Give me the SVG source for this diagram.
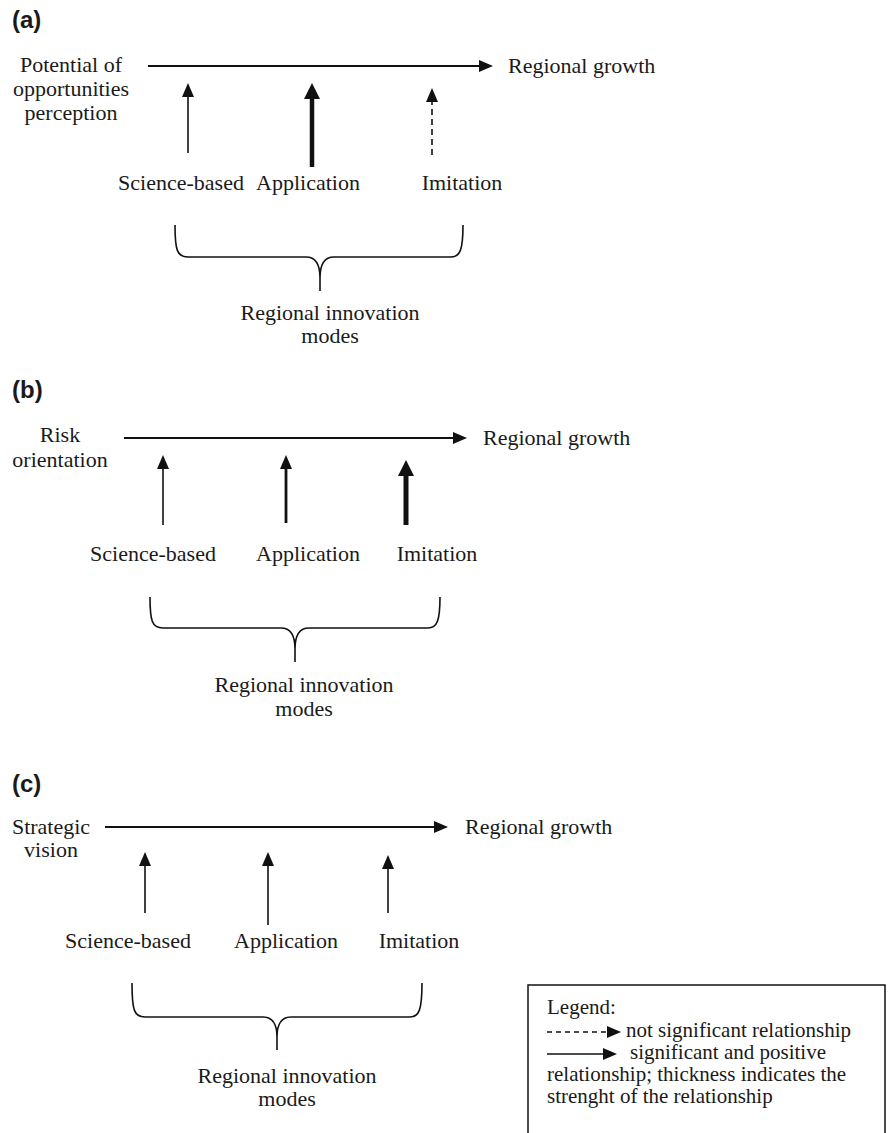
<svg xmlns="http://www.w3.org/2000/svg" width="890" height="1133" viewBox="0 0 890 1133">
<style>
.t{font-family:"Liberation Serif","Times New Roman",serif;font-size:22px;fill:#1a1a1a}
.lg{font-family:"Liberation Serif","Times New Roman",serif;font-size:21px;fill:#1a1a1a}
.m{text-anchor:middle}
.h{font-family:"Liberation Sans",Arial,sans-serif;font-size:24px;font-weight:bold;fill:#1a1a1a}
.ln{stroke:#111;fill:none}
.br{stroke:#111;stroke-width:1.6;fill:none}
</style>
<defs>
<marker id="ah" viewBox="0 0 14 12" refX="4" refY="6" markerWidth="14" markerHeight="12" markerUnits="userSpaceOnUse" orient="auto"><path d="M0,0 L14,6 L0,12 z" fill="#111"/></marker>
<marker id="ahL" viewBox="0 0 16 16" refX="6" refY="8" markerWidth="16" markerHeight="16" markerUnits="userSpaceOnUse" orient="auto"><path d="M0,0 L16,8 L0,16 z" fill="#111"/></marker>
</defs>
<rect width="890" height="1133" fill="#fff"/>

<g id="panel-a">
<text class="h" x="12" y="28">(a)</text>
<g id="a-source"><text class="t m" x="71" y="72">Potential of</text><text class="t m" x="71" y="96">opportunities</text><text class="t m" x="71" y="120">perception</text></g>
<g id="a-growth"><text class="t" x="508" y="73">Regional growth</text></g>
<g id="a-sci"><text class="t m" x="181" y="190">Science-based</text></g>
<g id="a-app"><text class="t m" x="308" y="190">Application</text></g>
<g id="a-imi"><text class="t m" x="462" y="190">Imitation</text></g>
<g id="a-modes"><path class="br" d="M175,225 C175,250 177,257 188,257 L306,257 C316,257 320,264 320,278 L320,291 M320,278 C320,264 324,257 334,257 L451,257 C460,257 463,250 463,225"/><text class="t m" x="330" y="320">Regional innovation</text><text class="t m" x="330" y="343">modes</text></g>
</g>

<g id="panel-b">
<text class="h" x="12" y="398">(b)</text>
<g id="b-source"><text class="t m" x="60" y="442">Risk</text><text class="t m" x="60" y="467">orientation</text></g>
<g id="b-growth"><text class="t" x="483" y="445">Regional growth</text></g>
<g id="b-sci"><text class="t m" x="153" y="561">Science-based</text></g>
<g id="b-app"><text class="t m" x="308" y="561">Application</text></g>
<g id="b-imi"><text class="t m" x="437" y="561">Imitation</text></g>
<g id="b-modes"><path class="br" d="M150,597 C150,621 152,628 163,628 L281,628 C291,628 295,635 295,649 L295,662 M295,649 C295,635 299,628 309,628 L428,628 C437,628 440,621 440,597"/><text class="t m" x="304" y="692">Regional innovation</text><text class="t m" x="304" y="716">modes</text></g>
</g>

<g id="panel-c">
<text class="h" x="12" y="792">(c)</text>
<g id="c-source"><text class="t m" x="51" y="834">Strategic</text><text class="t m" x="51" y="857">vision</text></g>
<g id="c-growth"><text class="t" x="465" y="834">Regional growth</text></g>
<g id="c-sci"><text class="t m" x="128" y="948">Science-based</text></g>
<g id="c-app"><text class="t m" x="286" y="948">Application</text></g>
<g id="c-imi"><text class="t m" x="419" y="948">Imitation</text></g>
<g id="c-modes"><path class="br" d="M132,983 C132,1010 134,1017 145,1017 L263,1017 C273,1017 277,1024 277,1037 L277,1050 M277,1037 C277,1024 281,1017 291,1017 L410,1017 C419,1017 422,1010 422,983"/><text class="t m" x="287" y="1083">Regional innovation</text><text class="t m" x="287" y="1106">modes</text></g>
</g>

<g id="connectors">
<line class="ln" stroke-width="1.8" x1="148" y1="66" x2="483" y2="66" marker-end="url(#ah)"/>
<line class="ln" stroke-width="1.6" x1="188" y1="153" x2="188" y2="93" marker-end="url(#ah)"/>
<line class="ln" stroke-width="4.5" x1="312" y1="167" x2="312" y2="93" marker-end="url(#ahL)"/>
<line class="ln" stroke-width="1.6" stroke-dasharray="6,4" x1="432" y1="155" x2="432" y2="98" marker-end="url(#ah)"/>

<line class="ln" stroke-width="1.8" x1="124" y1="438" x2="457" y2="438" marker-end="url(#ah)"/>
<line class="ln" stroke-width="1.6" x1="163" y1="525" x2="163" y2="465" marker-end="url(#ah)"/>
<line class="ln" stroke-width="2.8" x1="286" y1="523" x2="286" y2="465" marker-end="url(#ah)"/>
<line class="ln" stroke-width="5" x1="406" y1="525" x2="406" y2="470" marker-end="url(#ahL)"/>

<line class="ln" stroke-width="1.8" x1="105" y1="827" x2="438" y2="827" marker-end="url(#ah)"/>
<line class="ln" stroke-width="1.6" x1="145" y1="913" x2="145" y2="862" marker-end="url(#ah)"/>
<line class="ln" stroke-width="1.6" x1="268" y1="925" x2="268" y2="862" marker-end="url(#ah)"/>
<line class="ln" stroke-width="1.6" x1="388" y1="913" x2="388" y2="865" marker-end="url(#ah)"/>
</g>

<g id="legend">
<rect x="528" y="985" width="357" height="160" fill="none" stroke="#111" stroke-width="1.5"/>
<text class="lg" x="547" y="1014">Legend:</text>
<line class="ln" stroke-width="1.5" stroke-dasharray="5,4" x1="547" y1="1032" x2="611" y2="1032" marker-end="url(#ah)"/>
<text class="lg" x="626" y="1037">not significant relationship</text>
<line class="ln" stroke-width="1.5" x1="547" y1="1054" x2="607" y2="1054" marker-end="url(#ah)"/>
<text class="lg" x="630" y="1059">significant and positive</text>
<text class="lg" x="547" y="1081">relationship; thickness indicates the</text>
<text class="lg" x="547" y="1103">strenght of the relationship</text>
</g>
</svg>
